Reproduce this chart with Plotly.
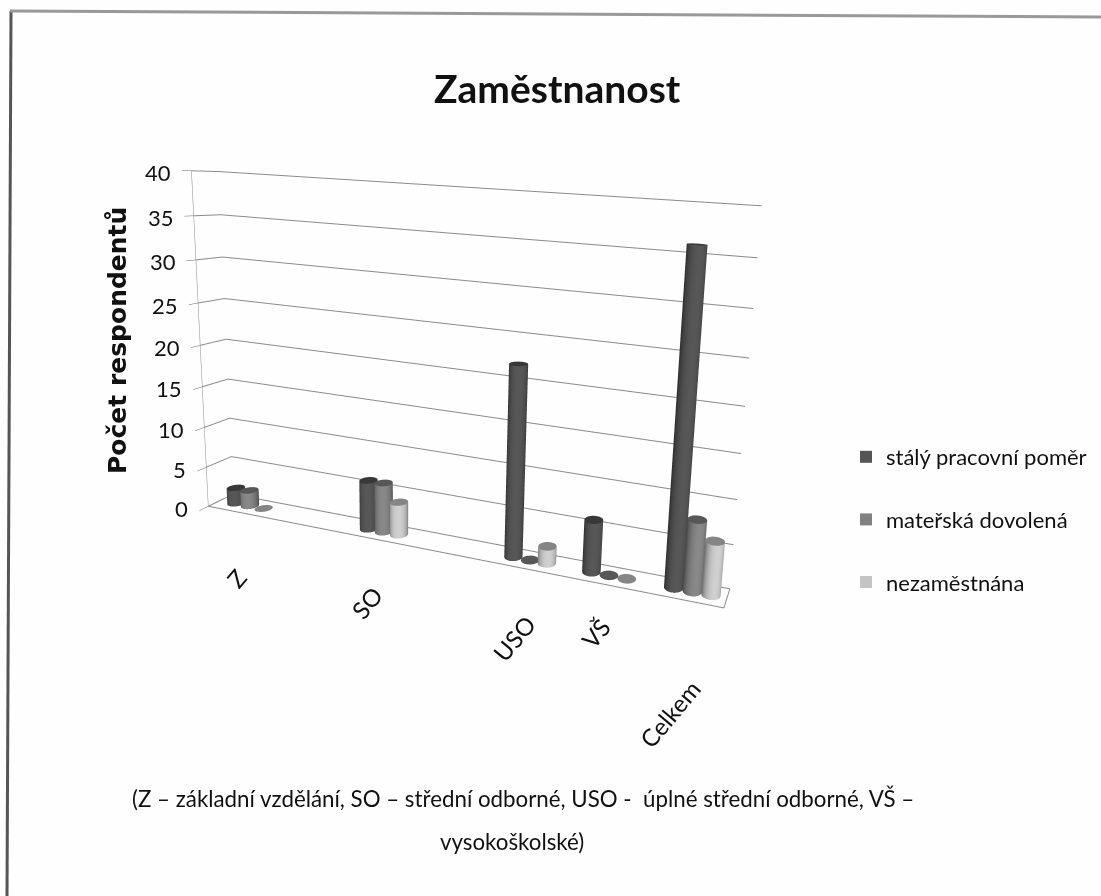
import numpy as np
import plotly.graph_objects as go

CATEGORIES = ["Z", "SO", "USO", "VŠ", "Celkem"]
STALY = [2, 6, 22, 6, 36]
MATERSKA = [2, 6, 0, 0, 8]
NEZAM = [0, 4, 2, 0, 6]
SERIES = ["stálý pracovní poměr", "mateřská dovolená", "nezaměstnána"]
SERIES_VALUES = [STALY, MATERSKA, NEZAM]
Z_TICKS = [0, 5, 10, 15, 20, 25, 30, 35, 40]

# styling and layout constants
COLORS = [(80, 80, 80), (125, 125, 125), (190, 190, 190)]
LEGEND_COLORS = ["#555555", "#808080", "#c4c4c4"]
CAT_POS = [0.0685, 0.3635, 0.6535, 0.798, 0.942]
LABEL_SHIFT = [(-2, -66), (-7, -64), (-9, -70), (-8, -49), (-18, -113)]
BAR_GAP = 0.0315
R = 0.025
W, H = 1101, 896
ASPECT = (1.5794, 0.0974, 1.0)
EYE = np.array([1.0029, -1.8283, 0.5494])
CENTER = (0.3114, 0.7739, 0.0502)
UP = (-0.035, -0.0808, 1.0)
SX, SY, SH = 640.0003, 321.0115, 638.0262
view = EYE / np.linalg.norm(EYE)


def cylinder(xc, yc, height, color):
    n = 36
    t = np.linspace(0, 2 * np.pi, n, endpoint=False)
    cx = np.cos(t); sn = np.sin(t)
    xr = xc + R / ASPECT[0] * cx; yr = yc + R / ASPECT[1] * sn
    face = np.clip(cx * view[0] + sn * view[1], 0, 1) / np.hypot(view[0], view[1])
    side = [tuple(int(min(255, c * (0.6 + 0.5 * fc))) for c in color) for fc in face]
    capc = tuple(int(c * 0.7) for c in color)
    X = list(xr) * 3 + [xc]
    Y = list(yr) * 3 + [yc]
    Z = [0.0] * n + [height] * n + [height] * n + [height]
    VC = side + side + [capc] * n + [capc]
    I, J, K = [], [], []
    for a in range(n):
        b = (a + 1) % n
        I += [a, b]; J += [b, b + n]; K += [a + n, a + n]
        I.append(2 * n + a); J.append(2 * n + b); K.append(3 * n)
    return X, Y, Z, VC, I, J, K


traces = []
for si, (name, vals, col) in enumerate(zip(SERIES, SERIES_VALUES, COLORS)):
    X, Y, Z, VC, I, J, K = [], [], [], [], [], [], []
    for pos, v in zip(CAT_POS, vals):
        x_, y_, z_, vc, i_, j_, k_ = cylinder(pos + (si - 1) * BAR_GAP, 0.5, float(v), col)
        o = len(X)
        X += x_; Y += y_; Z += z_; VC += vc
        I += [a + o for a in i_]; J += [a + o for a in j_]; K += [a + o for a in k_]
    traces.append(go.Mesh3d(x=X, y=Y, z=Z, i=I, j=J, k=K, name=name,
                            vertexcolor=[f"rgb{c}" for c in VC], showlegend=False,
                            lighting=dict(ambient=1, diffuse=0, specular=0, roughness=1, fresnel=0)))
    traces.append(go.Scatter3d(x=[None], y=[None], z=[None], mode="markers", name=name,
                               legendgroup=name, showlegend=True,
                               marker=dict(symbol="square", size=12, color=LEGEND_COLORS[si])))

floor = go.Scatter3d(x=[0, 1, 1, 0, 0], y=[0, 0, 1, 1, 0], z=[0] * 5, mode="lines",
                     line=dict(color="#8a8a8a", width=2), showlegend=False, hoverinfo="skip")
fig = go.Figure(traces + [floor])

FONT = "Lato"
num_font = dict(family=FONT, size=22, color="#111")
annos3d = [dict(x=0, y=0, z=t, text=str(t), showarrow=False, xanchor="right", xshift=-18, yshift=-2, font=num_font)
           for t in Z_TICKS]
annos3d += [dict(x=c, y=0, z=0, text=n, showarrow=False, textangle=-50, xshift=s[0], yshift=s[1],
                 font=dict(family=FONT, size=24, color="#111"))
            for c, n, s in zip(CAT_POS, CATEGORIES, LABEL_SHIFT)]

hidden = dict(showgrid=False, showticklabels=False, ticks="", zeroline=False, showline=False,
              showbackground=False, showspikes=False, title="", range=[0, 1])
wd = 2 * min(SX, W - SX)
scene = dict(
    domain=dict(x=[(SX - wd / 2) / W, min(1, (SX + wd / 2) / W)],
                y=[max(0, (H - SY - SH / 2) / H), min(1, (H - SY + SH / 2) / H)]),
    xaxis=hidden, yaxis=hidden,
    zaxis=dict(range=[0, 40], tickvals=Z_TICKS, showgrid=True, gridcolor="#8a8a8a", gridwidth=2,
               showticklabels=False, ticks="outside", ticklen=3, tickcolor="#666", zeroline=False,
               showline=True, linecolor="#888", showbackground=False, showspikes=False, title=""),
    dragmode="orbit",
    aspectmode="manual", aspectratio=dict(x=ASPECT[0], y=ASPECT[1], z=ASPECT[2]),
    camera=dict(eye=dict(x=EYE[0], y=EYE[1], z=EYE[2]), center=dict(x=CENTER[0], y=CENTER[1], z=CENTER[2]),
                up=dict(x=UP[0], y=UP[1], z=UP[2]), projection=dict(type="perspective")),
    annotations=annos3d,
)
text_font = dict(family=FONT, size=22.3, color="#111")
paper = lambda x, y, **k: dict(xref="paper", yref="paper", x=x / W, y=1 - y / H, showarrow=False,
                               xanchor="center", yanchor="middle", **k)
fig.update_layout(
    width=W, height=H, margin=dict(l=0, r=0, t=0, b=0), paper_bgcolor="#fefefe", scene=scene,
    showlegend=True,
    legend=dict(x=846 / W, y=1 - 436 / H, xanchor="left", yanchor="top", tracegroupgap=31,
                font=dict(family=FONT, size=22, color="#111"), bgcolor="rgba(0,0,0,0)"),
    annotations=[
        paper(557, 88, text="<b>Zaměstnanost</b>", font=dict(family=FONT, size=39, color="#111")),
        paper(117, 341, text="<b>Počet respondentů</b>", textangle=-90, font=dict(family="DejaVu Sans", size=25, color="#111")),
        paper(523, 798, text="(Z – základní vzdělání, SO – střední odborné, USO -  úplné střední odborné, VŠ –", font=text_font),
        paper(512, 841, text="vysokoškolské)", font=text_font),
    ],
    shapes=[
        dict(type="line", xref="paper", yref="paper", x0=11 / W, y0=1 - 11 / H, x1=7 / W, y1=0, line=dict(color="#555", width=3)),
        dict(type="line", xref="paper", yref="paper", x0=10 / W, y0=1 - 11 / H, x1=1, y1=1 - 17 / H, line=dict(color="#999", width=3)),
    ],
)
fig.write_html("out.html", post_script="document.body.style.margin='0';", config=dict(displayModeBar=False))
